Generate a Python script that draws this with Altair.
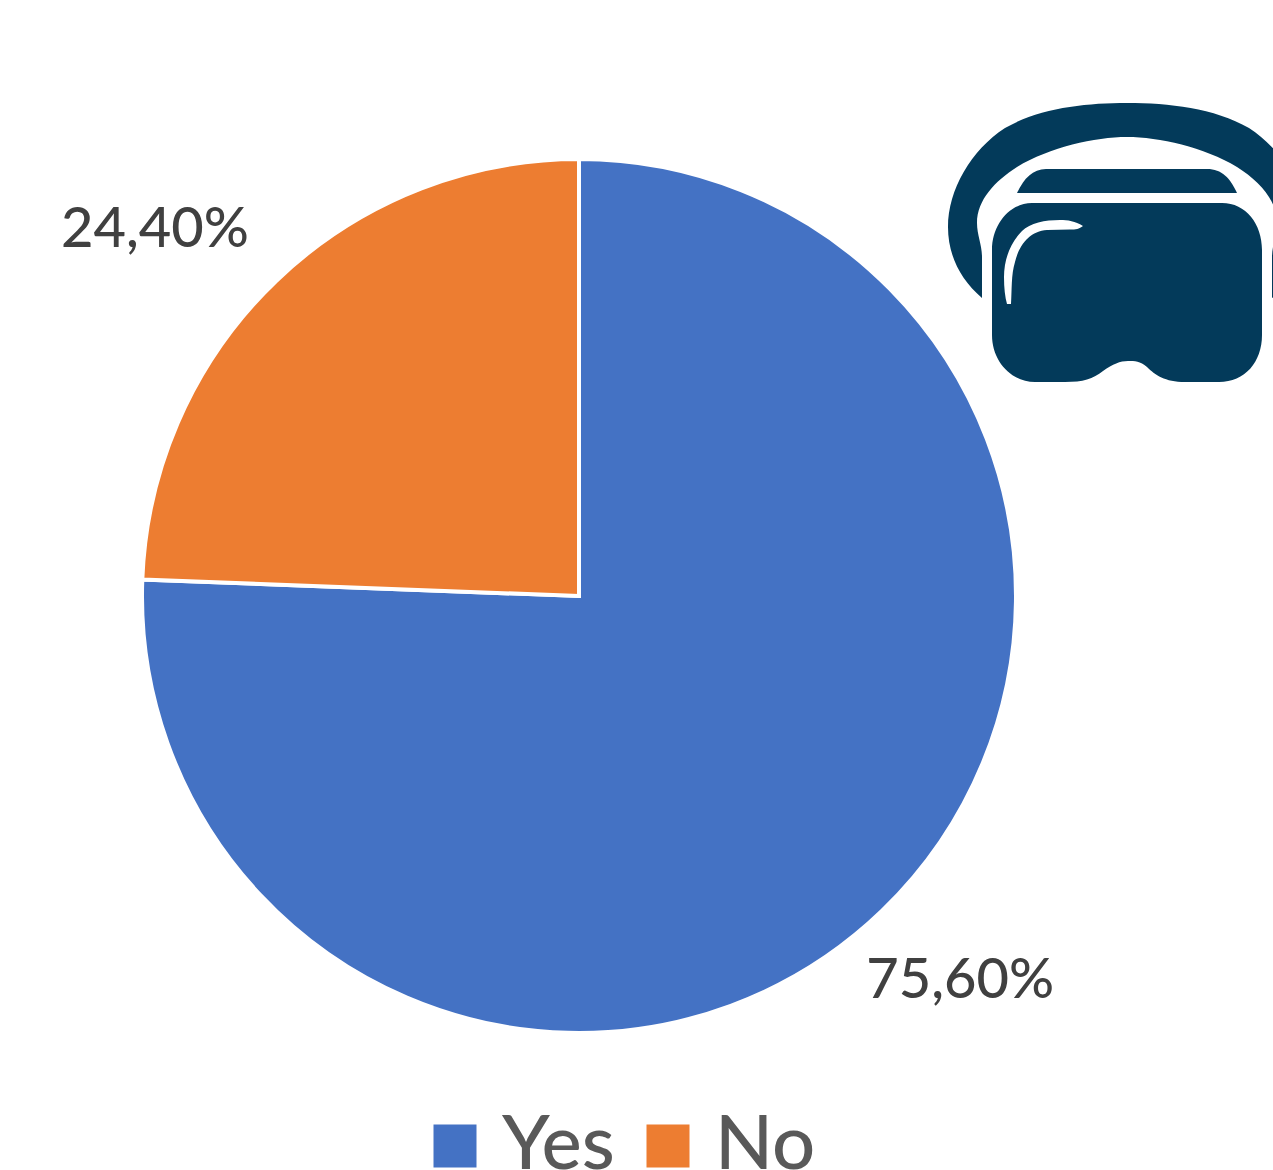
import altair as alt
import pandas as pd

# Survey answers and their shares, in percent
answers = ["Yes", "No"]
shares = [75.6, 24.4]
slice_colors = ["#4472C4", "#ED7D31"]

ends = [sum(shares[: i + 1]) for i in range(len(shares))]
starts = [e - s for e, s in zip(ends, shares)]

pie = pd.DataFrame(
    {
        "answer": answers,
        "share": shares,
        "start": starts,
        "end": ends,
        "mid": [(a + b) / 2 for a, b in zip(starts, ends)],
        "label": [f"{s:.2f}".replace(".", ",") + "%" for s in shares],
    }
)

CX, CY = 579, 596
FONT = "Lato"

# Headset pictogram outlines, in canvas pixels (symbol size 4 means a 1:1 path scale)
ICON_COLOR = "#033A5A"
ICON_BAND = (
    "M982 298 C961 280 948 256 948 227 C948 190 971 150 1005 128 "
    "C1040 108 1085 103 1127 103 C1169 103 1214 108 1249 128 "
    "C1283 150 1306 190 1306 227 C1306 256 1293 280 1272 298 "
    "L1272 257 C1272 245 1277 235 1277 223 C1277 200 1259 181 1237 167 "
    "C1204 147 1159 137 1127 137 C1095 137 1050 147 1017 167 "
    "C995 181 977 200 977 223 C977 235 982 245 982 257 Z"
)
ICON_VISOR = (
    "M1017 193 C1024 178 1033 169 1046 169 L1207 169 "
    "C1222 169 1230 178 1237 193 Z"
)
ICON_BODY = (
    "M1032 203 L1222 203 C1246 203 1262 224 1262 250 L1262 335 "
    "C1262 362 1245 382 1219 382 L1185 382 C1165 382 1155 375 1147 367 "
    "C1140 361 1135 361 1128 361 C1120 361 1113 364 1103 371 "
    "C1093 379 1083 382 1065 382 L1035 382 C1012 382 992 362 992 335 "
    "L992 250 C992 224 1010 203 1032 203 Z"
)
ICON_SHINE = (
    "M1083 226 C1075 221 1068 220 1060 220 C1045 220 1030 223 1022 231 "
    "C1010 243 1004 260 1004 277 C1004 288 1005 297 1007 304 L1011 304 "
    "C1012 290 1011 275 1015 262 C1019 245 1030 231 1047 230 "
    "L1070 229.5 C1076 229.5 1079 229 1083 226 Z"
)

theta_scale = alt.Scale(domain=[0, 100])

slices = (
    alt.Chart(pie)
    .mark_arc(outerRadius=437, stroke="white", strokeWidth=4)
    .encode(
        x=alt.value(CX),
        y=alt.value(CY),
        theta=alt.Theta("start:Q", scale=theta_scale),
        theta2=alt.Theta2("end:Q"),
        color=alt.Color(
            "answer:N",
            scale=alt.Scale(domain=answers, range=slice_colors),
            legend=alt.Legend(
                orient="none",
                legendX=417,
                legendY=1108,
                direction="horizontal",
                columns=2,
                title=None,
                symbolType="square",
                symbolSize=1849,
                symbolStrokeWidth=0,
                symbolOpacity=1,
                labelFont=FONT,
                labelFontSize=76,
                labelFontWeight=500,
                labelColor="#595959",
                labelOffset=9,
                labelLimit=300,
                columnPadding=15,
            ),
        ),
    )
)


def pie_label(answer, radius, dx, dy):
    return (
        alt.Chart(pie[pie["answer"] == answer])
        .mark_text(
            radius=radius,
            dx=dx,
            dy=dy,
            font=FONT,
            fontSize=56,
            fontWeight=500,
            color="#404040",
            align="center",
            baseline="middle",
        )
        .encode(
            x=alt.value(CX),
            y=alt.value(CY),
            theta=alt.Theta("mid:Q", scale=theta_scale),
            text="label:N",
        )
    )


def icon_part(path, color):
    return (
        alt.Chart(pie.head(1))
        .mark_point(shape=path, size=4, filled=True, fill=color, opacity=1, strokeWidth=0)
        .encode(x=alt.value(0), y=alt.value(0))
    )


chart = (
    alt.layer(
        slices,
        pie_label("Yes", 541, 6, -5),
        pie_label("No", 561, -35, 38),
        icon_part(ICON_BAND, ICON_COLOR),
        icon_part(ICON_VISOR, ICON_COLOR),
        icon_part(ICON_BODY, ICON_COLOR),
        icon_part(ICON_SHINE, "white"),
    )
    .properties(
        width=1273,
        height=1170,
        padding=0,
        autosize=alt.AutoSizeParams(type="none"),
        background="white",
    )
    .configure_view(stroke=None)
)

chart.save("out.html", embed_options={"renderer": "svg", "actions": False})
